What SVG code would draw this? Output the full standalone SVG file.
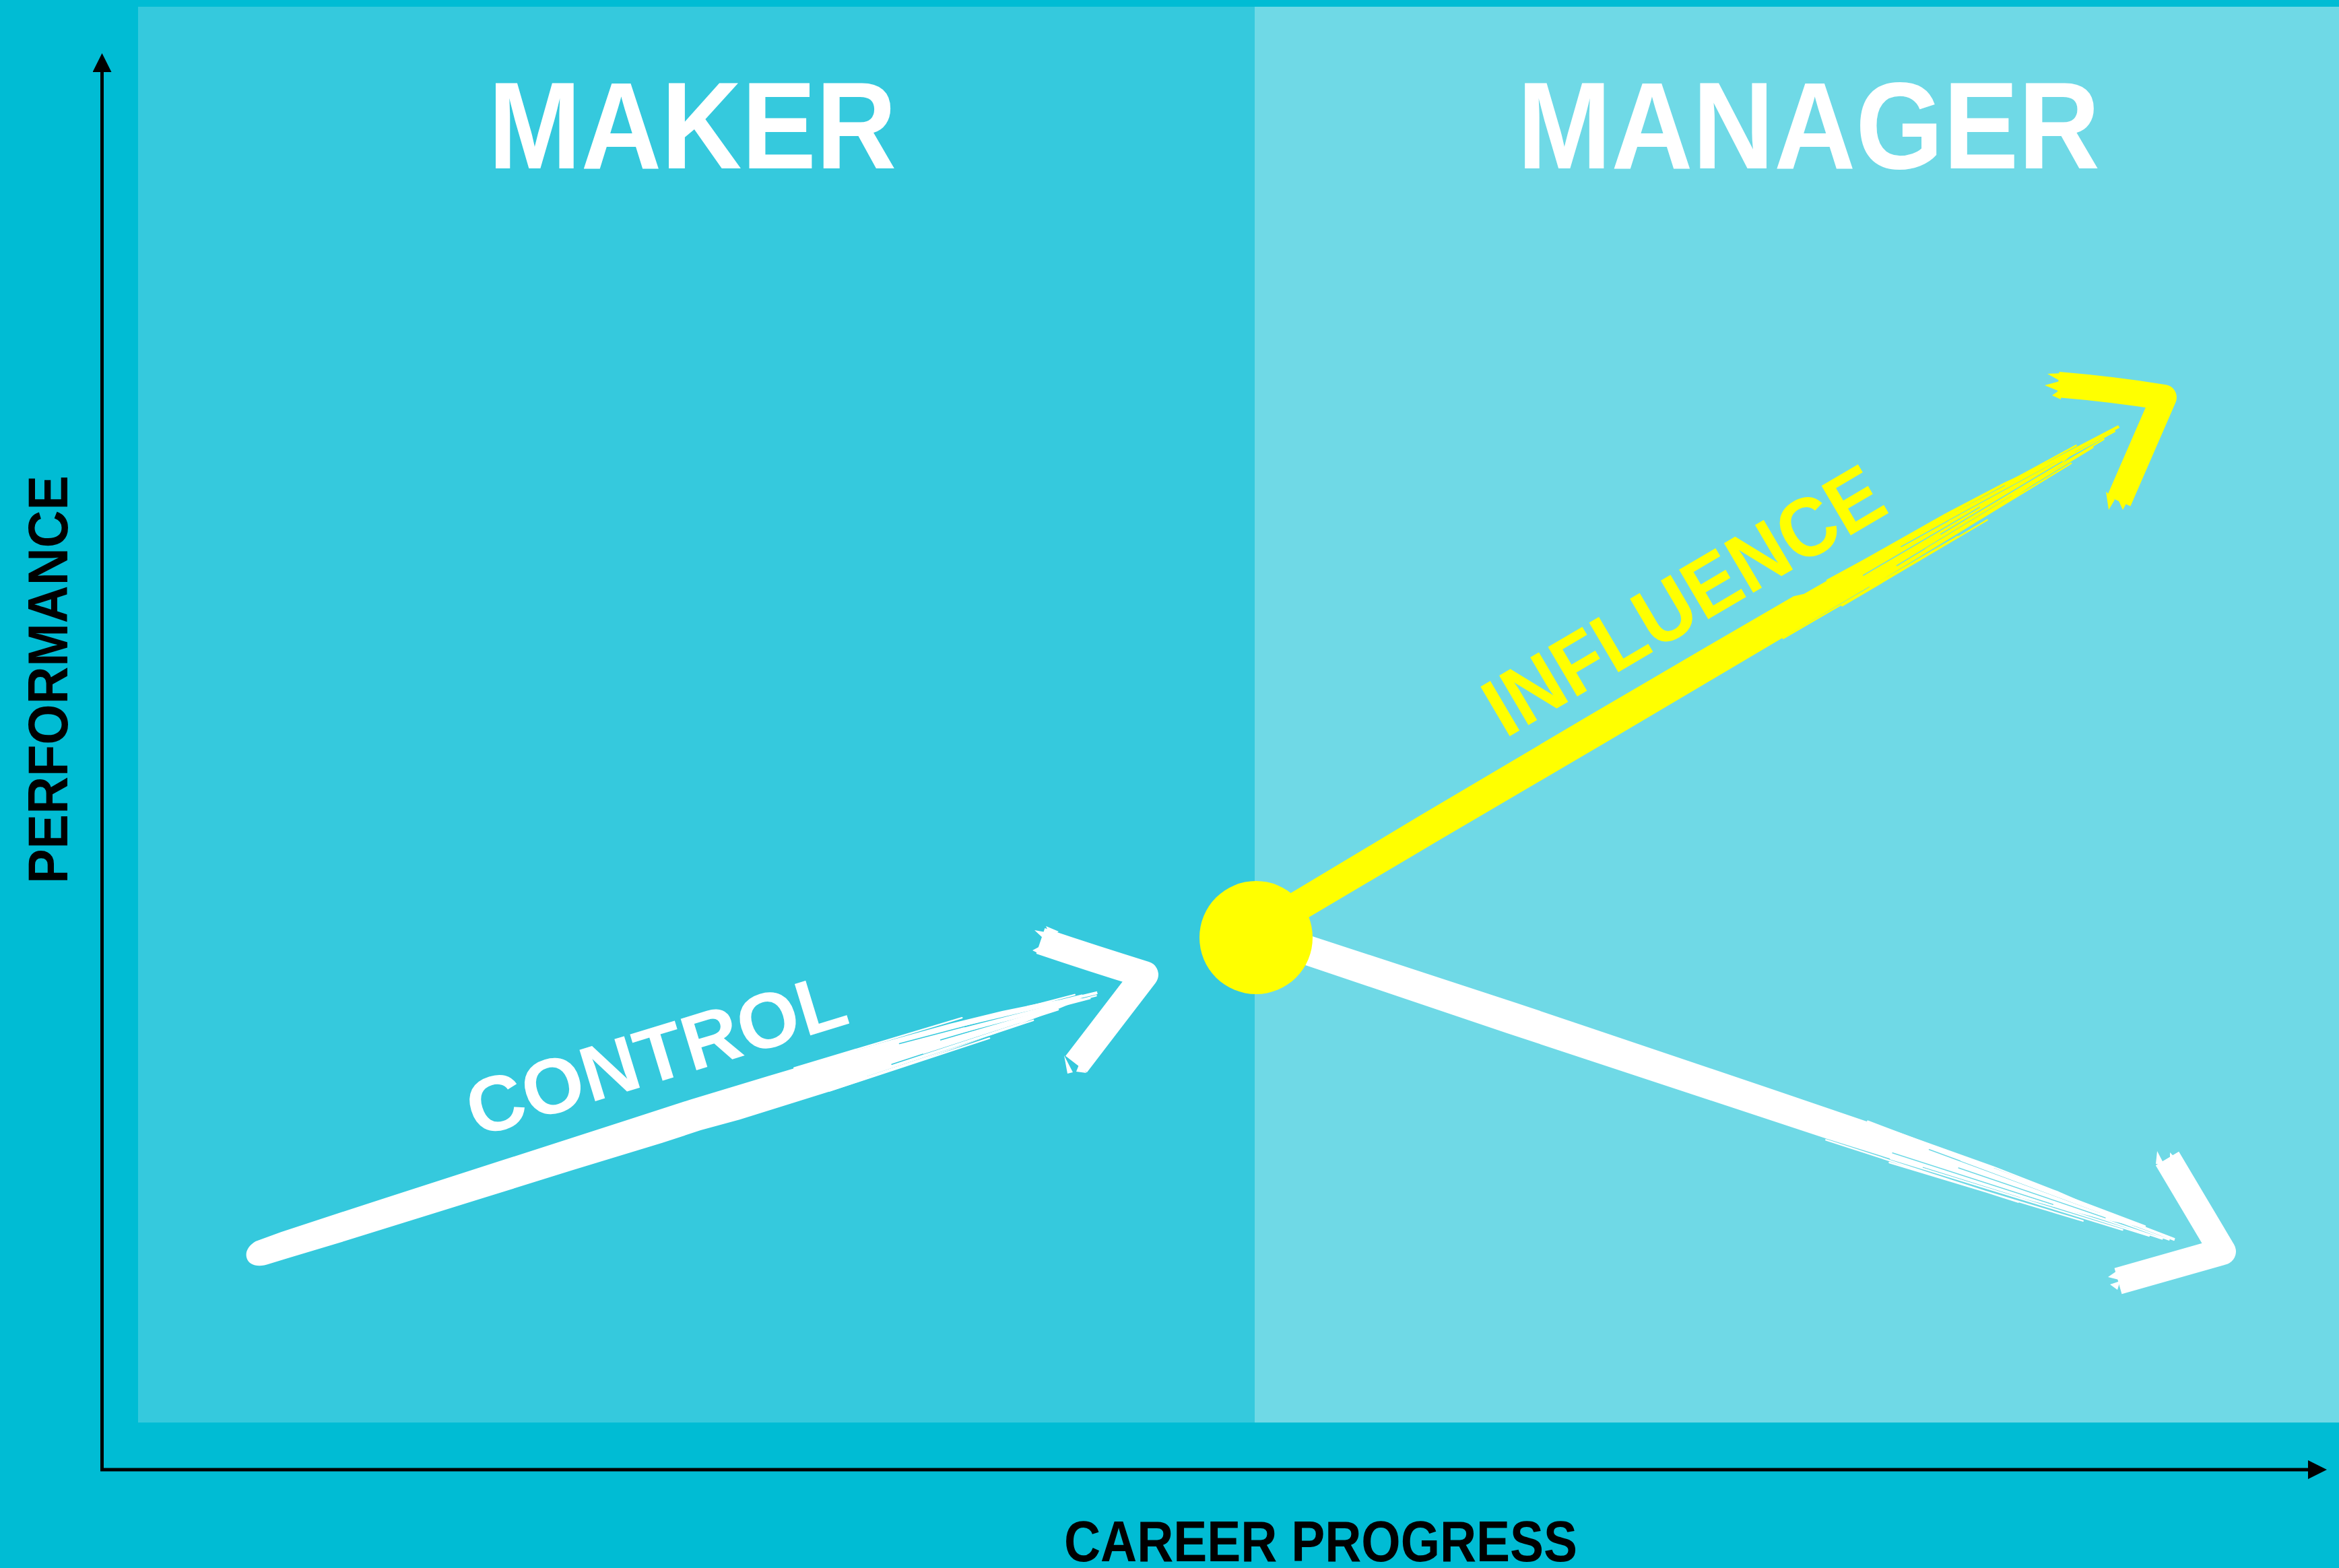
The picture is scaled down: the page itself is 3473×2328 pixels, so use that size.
<svg xmlns="http://www.w3.org/2000/svg" width="3473" height="2328" viewBox="0 0 3473 2328">
  <style>
    .bg{fill:#00BCD4}
    .pl{fill:#35C9DD}
    .pr{fill:#6FD9E6}
    .title{font-family:"Liberation Sans",Arial,sans-serif;font-weight:700;fill:#FFFFFF}
    .axlabel{font-family:"Liberation Sans",Arial,sans-serif;font-weight:700;fill:#000000}
    .axis{stroke:#000000;stroke-width:5;fill:none}
    .wfill{fill:#FFFFFF}
    .yfill{fill:#FFFF00}
    .whead{fill:none;stroke:#FFFFFF;stroke-linejoin:round;stroke-linecap:butt}
    .yhead{fill:none;stroke:#FFFF00;stroke-linejoin:round;stroke-linecap:butt}
    .wstreak{fill:none;stroke:#FFFFFF;stroke-width:2.4;stroke-linecap:round}
    .ystreak{fill:none;stroke:#FFFF00;stroke-width:2.4;stroke-linecap:round}
    .gapL{fill:none;stroke:#35C9DD;stroke-width:1.5;stroke-linecap:round}
    .gapR{fill:none;stroke:#6FD9E6;stroke-width:1.5;stroke-linecap:round}
  </style>
  <defs>
    <marker id="ah" markerUnits="userSpaceOnUse" markerWidth="28" markerHeight="28" viewBox="0 0 28 28" refX="0" refY="14" orient="auto">
      <path d="M0,0 L28,14 L0,28 Z" fill="#000000"/>
    </marker>
  </defs>

  <g id="background">
    <rect class="bg" x="0" y="0" width="3473" height="2328"/>
    <rect class="pl" x="205" y="10" width="1658" height="2102"/>
    <rect class="pr" x="1863" y="10" width="1610" height="2102"/>
  </g>

  <g id="node-maker">
    <text class="title" x="725" y="250" font-size="184" textLength="606" lengthAdjust="spacingAndGlyphs">MAKER</text>
  </g>
  <g id="node-manager">
    <text class="title" x="2253" y="250" font-size="184" textLength="865" lengthAdjust="spacingAndGlyphs">MANAGER</text>
  </g>

  <g id="axes">
    <line class="axis" x1="151.5" y1="2184" x2="151.5" y2="107" marker-end="url(#ah)"/>
    <line class="axis" x1="149" y1="2182" x2="3427" y2="2182" marker-end="url(#ah)"/>
    <text class="axlabel" transform="translate(100,1312) rotate(-90)" font-size="84" textLength="606" lengthAdjust="spacingAndGlyphs">PERFORMANCE</text>
    <text class="axlabel" x="1580" y="2318" font-size="85" textLength="762" lengthAdjust="spacingAndGlyphs">CAREER PROGRESS</text>
  </g>

  <g id="connectors">
    <!-- CONTROL brush arrow -->
    <g id="arrow-control">
      <g transform="translate(367,1870) rotate(-17.3)">
        <path class="wfill" d="M0,-2 C0,-12 8,-19 20,-22 L60,-24 L200,-26 L400,-28 L600,-30 L700,-31 L820,-30 L900,-29 L1000,-27 L1100,-24 L1180,-19 L1240,-13 L1290,-5 L1300,-1 L1250,4 L1180,9 L1100,13 L1000,17 L900,19 L760,19 L700,17 L640,18 L500,17 L300,17 L150,17 L60,16 L30,16 C12,17 0,9 0,-2 Z"/>
        <path class="gapL" d="M1020,-18 L1240,-8 M1080,-5 L1250,-2 M1000,8 L1200,5 M1120,-13 L1260,-6 M960,13 L1150,10"/>
        <path class="wstreak" d="M900,-29 L1290,-10 M980,-26 L1322,-2 M1050,-21 L1300,-6 M1000,-12 L1310,2 M1100,-17 L1280,-4 M1050,6 L1260,4 M950,13 L1220,8 M1150,-8 L1320,1 M900,18 L1150,14 M1200,-12 L1322,-4 M860,-30 L1120,-27"/>
      </g>
      <path class="whead" stroke-width="40" d="M1545,1397 Q1625,1424 1700,1447 L1598,1580"/>
      <path class="wfill" d="M1536,1381 L1558,1385 L1550,1394 Z M1553,1375 L1572,1383 L1560,1390 Z M1533,1411 L1550,1402 L1547,1418 Z M1580,1567 L1593,1592 L1585,1594 Z M1604,1576 L1613,1593 L1598,1591 Z"/>
    </g>

    <!-- INFLUENCE brush arrow -->
    <g id="arrow-influence">
      <g transform="translate(1865,1392) rotate(-30.6)">
        <path class="yfill" d="M-20,-30 L300,-32 L600,-32 L800,-31 L945,-30 L960,-25 L1100,-23 L1200,-21 L1300,-16 L1380,-8 L1420,-3 L1380,5 L1300,11 L1200,14 L1100,15 L900,15 L600,15 L300,14 L-20,14 Z"/>
        <path class="gapR" d="M1120,-12 L1380,-4 M1180,2 L1390,1 M1100,9 L1300,7 M1200,-17 L1360,-9 M1050,-4 L1250,-3"/>
        <path class="ystreak" d="M1000,-25 L1420,-9 M1100,-20 L1488,0 M1150,-14 L1470,-1 M1200,-8 L1480,2 M1150,10 L1440,6 M1050,15 L1400,10 M1250,4 L1460,4 M900,16 L1200,18 M1300,-12 L1488,-2 M1000,19 L1250,19"/>
      </g>
      <path class="yhead" stroke-width="38" d="M3056,571 Q3140,578 3213,590 L3146,744"/>
      <path class="yfill" d="M3040,555 L3062,554 L3058,565 Z M3036,572 L3058,566 L3058,581 Z M3047,587 L3060,578 L3060,593 Z M3127,730 L3131,757 L3140,742 Z M3146,744 L3152,757 L3159,744 Z"/>
    </g>

    <!-- lower white brush arrow -->
    <g id="arrow-decline">
      <g transform="translate(1865,1385) rotate(18.5)">
        <path class="wfill" d="M-20,-21 L400,-24 L800,-23 L1000,-22 L1150,-19 L1250,-14 L1330,-7 L1380,-2 L1330,4 L1250,10 L1150,16 L900,21 L400,23 L-20,22 Z"/>
        <path class="gapR" d="M1050,-12 L1320,-4 M1100,0 L1330,1 M1000,10 L1250,7 M1150,-16 L1300,-8 M1050,16 L1200,13"/>
        <path class="wstreak" d="M950,-23 L1390,-6 M1050,-19 L1437,0 M1100,-12 L1420,-1 M1150,-6 L1430,2 M1100,12 L1400,6 M1000,19 L1360,10 M1200,4 L1420,4 M900,23 L1200,20 M1250,-10 L1437,-2 M1000,25 L1300,16"/>
      </g>
      <path class="whead" stroke-width="40" d="M3218,1720 L3300,1858 L3145,1902"/>
      <path class="wfill" d="M3203,1709 L3214,1730 L3201,1728 Z M3222,1711 L3233,1722 L3222,1726 Z M3231,1721 L3240,1736 L3227,1732 Z M3130,1896 L3146,1885 L3146,1900 Z M3133,1907 L3148,1902 L3144,1915 Z"/>
    </g>

    <text class="title" transform="translate(707,1689) rotate(-17)" font-size="116" textLength="583" lengthAdjust="spacingAndGlyphs">CONTROL</text>
    <text class="title" transform="translate(2235,1097) rotate(-30.5)" font-size="124" textLength="665" lengthAdjust="spacingAndGlyphs" style="fill:#FFFF00">INFLUENCE</text>
  </g>

  <g id="node-pivot">
    <circle cx="1865" cy="1392" r="84" fill="#FFFF00"/>
  </g>
</svg>
